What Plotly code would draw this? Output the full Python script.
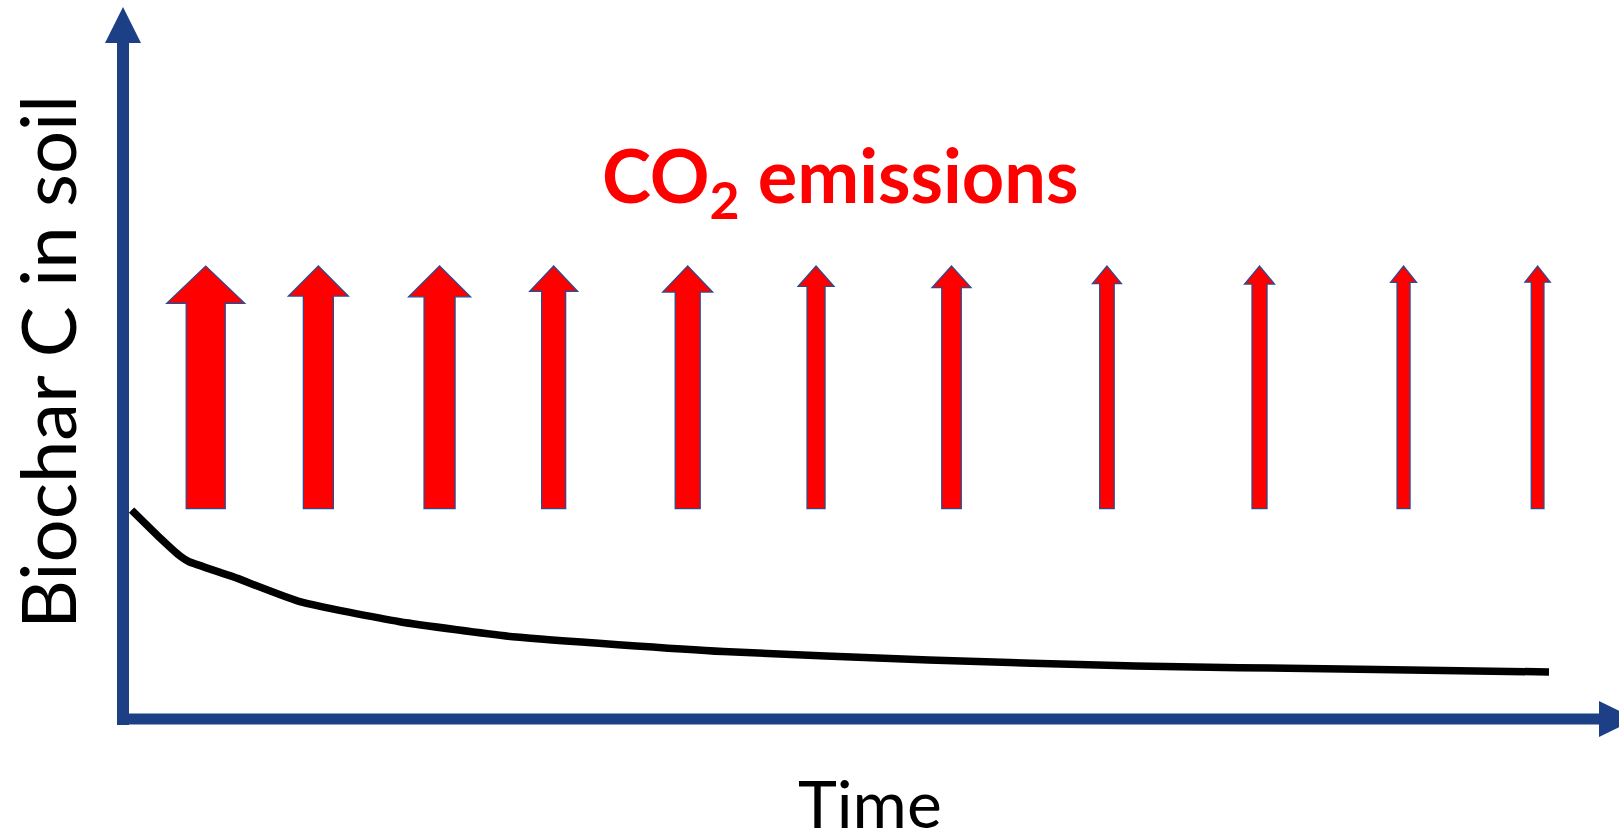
import plotly.graph_objects as go

# ---------------- data ----------------
# Biochar C remaining in soil (% of initial) over time (years, arbitrary)
curve_time = [0.6, 2.6, 4.0, 4.6, 7.7, 12.4, 19.4, 27.6, 42.1, 56.5, 71.0, 85.5, 100.0]
curve_pct = [99.5, 86.2, 77.6, 75.0, 67.8, 55.9, 46.3, 39.0, 32.1, 28.1, 25.2, 23.8, 22.4]

# CO2 emission pulses: time and relative magnitude (arrow thickness)
emission_time = [5.8, 13.7, 22.2, 30.2, 39.6, 48.6, 58.1, 69.0, 79.7, 89.8, 99.2]
emission_size = [3.9, 3.0, 3.1, 2.4, 2.5, 1.8, 1.95, 1.45, 1.5, 1.3, 1.27]

title_text = "CO<sub>2</sub> emissions"
x_label = "Time"
y_label = "Biochar C in soil"

# ---------------- layout / style constants ----------------
W, H = 1619, 835
X0_PX, PX_PER_T = 123.0, 14.26     # pixel position of t=0 and px per time unit
Y0_PX, PX_PER_V = 719.0, 2.1       # pixel position of 0 % and px per %
SIZE_PX = 10.0                     # px of shaft width per unit of emission size
ARROW_BOTTOM_V = 100.2
ARROW_TIP_V = 215.7
AXIS_BLUE = "#1d3f86"
OUTLINE_BLUE = "#2f4b8f"
RED = "#ff0000"

x_range = [(0 - X0_PX) / PX_PER_T, (W - X0_PX) / PX_PER_T]
y_range = [(Y0_PX - H) / PX_PER_V, (Y0_PX - 0) / PX_PER_V]


def dx(px):  # pixel length -> time units
    return px / PX_PER_T


def dy(px):  # pixel length -> % units
    return px / PX_PER_V


fig = go.Figure()

# decay curve
fig.add_trace(go.Scatter(
    x=curve_time, y=curve_pct, mode="lines",
    line=dict(color="black", width=7.5, shape="spline", smoothing=0.5),
    hoverinfo="skip", showlegend=False,
))

shapes = []

# emission arrows
for t, s in zip(emission_time, emission_size):
    w = s * SIZE_PX              # shaft width px
    half = w / 2.0
    head_half = w                # head half-width px
    head_len = 0.8 * w + 6       # head length px
    yb = ARROW_BOTTOM_V
    yt = ARROW_TIP_V
    yh = yt - dy(head_len)
    pts = [
        (t - dx(half), yb), (t + dx(half), yb), (t + dx(half), yh),
        (t + dx(head_half), yh), (t, yt), (t - dx(head_half), yh),
        (t - dx(half), yh),
    ]
    path = "M " + " L ".join(f"{px:.4f},{py:.4f}" for px, py in pts) + " Z"
    shapes.append(dict(type="path", path=path, xref="x", yref="y",
                       fillcolor=RED, line=dict(color=OUTLINE_BLUE, width=1.3),
                       layer="above"))

# vertical axis with arrowhead
ax_half = dx(6)
v_bottom = -dy(725 - Y0_PX)
v_head = (Y0_PX - 43) / PX_PER_V
v_tip = (Y0_PX - 7) / PX_PER_V
shapes.append(dict(type="path", xref="x", yref="y",
                   path=(f"M {-ax_half},{v_bottom} L {ax_half},{v_bottom} L {ax_half},{v_head} "
                         f"L {dx(18)},{v_head} L 0,{v_tip} L {-dx(18)},{v_head} L {-ax_half},{v_head} Z"),
                   fillcolor=AXIS_BLUE, line=dict(width=0), layer="below"))

# horizontal axis with arrowhead
h_half = dy(5.5)
t_left = -dx(6)
t_head = (1599 - X0_PX) / PX_PER_T
t_tip = (1636 - X0_PX) / PX_PER_T
yc = 0.0
shapes.append(dict(type="path", xref="x", yref="y",
                   path=(f"M {t_left},{yc - h_half} L {t_head},{yc - h_half} L {t_head},{yc - dy(18)} "
                         f"L {t_tip},{yc} L {t_head},{yc + dy(18)} L {t_head},{yc + h_half} "
                         f"L {t_left},{yc + h_half} Z"),
                   fillcolor=AXIS_BLUE, line=dict(width=0), layer="below"))

annotations = [
    dict(text=title_text, x=(840 - X0_PX) / PX_PER_T, y=(Y0_PX - 180) / PX_PER_V,
         xref="x", yref="y", showarrow=False,
         font=dict(family="Lato", size=74, color=RED, weight="bold")),
    dict(text=x_label, x=(870 - X0_PX) / PX_PER_T, y=(Y0_PX - 802) / PX_PER_V,
         xref="x", yref="y", showarrow=False,
         font=dict(family="Lato", size=66, color="black")),
    dict(text=y_label, x=(46 - X0_PX) / PX_PER_T, y=(Y0_PX - 362) / PX_PER_V,
         xref="x", yref="y", showarrow=False, textangle=-90,
         font=dict(family="Lato", size=76, color="black")),
]

fig.update_layout(
    width=W, height=H,
    margin=dict(l=0, r=0, t=0, b=0),
    paper_bgcolor="white", plot_bgcolor="white",
    xaxis=dict(range=x_range, visible=False, fixedrange=True),
    yaxis=dict(range=y_range, visible=False, fixedrange=True),
    shapes=shapes, annotations=annotations, showlegend=False,
)

fig.write_html(
    "out.html",
    config={"displayModeBar": False},
    post_script="document.body.style.margin='0px';document.body.style.overflow='hidden';",
)
